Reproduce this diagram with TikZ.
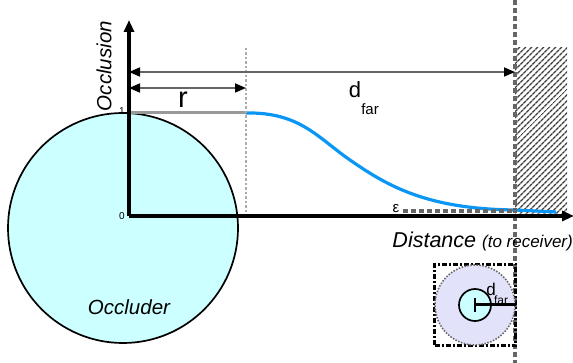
\documentclass[tikz,border=0pt]{standalone}
\usepackage{fontspec}
\setmainfont{Liberation Sans}
\usetikzlibrary{arrows.meta,positioning,patterns.meta}
\definecolor{occfill}{HTML}{CCFFFF}
\definecolor{curveblue}{HTML}{0A96F5}
\definecolor{rulegray}{HTML}{999999}
\definecolor{dashgray}{HTML}{666666}
\definecolor{discfill}{HTML}{E2E2FA}
\newcommand{\bigfont}{\fontsize{20.5}{23}\selectfont}
\tikzset{
  axis/.style={line width=3.2pt, -{Triangle[length=12pt,width=10pt]}},
  dim/.style={draw=dashgray, line width=1.7pt},
  dimtip/.style={dim, {Triangle[length=11pt,width=9pt,black]}-{Triangle[length=11pt,width=9pt,black]}},
  marker/.style={draw=rulegray!80, line width=2.2pt, dash pattern=on 2.5pt off 2pt},
  limit/.style={draw=dashgray, line width=3.2pt, dash pattern=on 5pt off 3pt},
  occluder/.style={circle, draw=black, fill=occfill, line width=1.7pt, minimum size=230pt, inner sep=0pt},
  lbl/.style={font=\bigfont, inner sep=1pt},
  tick/.style={font=\fontsize{10}{11}\selectfont, inner sep=1pt},
  sub/.style={font=\fontsize{15}{16}\selectfont, inner sep=1pt}
}
\begin{document}
\begin{tikzpicture}[x=1pt, y=-1pt]
 \useasboundingbox (0,0) rectangle (573,363);
 % occluder
 \node[occluder] (occ) at (123,228) {};
 \node[lbl, font=\bigfont\itshape] (occname) at (129,307) {Occluder};
 % hatched region beyond d_far
 \fill[pattern={Lines[angle=45, distance=4pt, line width=1.5pt]}, pattern color=dashgray!60!black]
   (515,48) rectangle (567,216);
 % coordinates on the axes
 \coordinate (origin) at (129,216);
 \coordinate (ytop) at (129,20);
 \coordinate (xend) at (574,216);
 \coordinate (full) at (129,113);
 \coordinate (rtop) at (246,48);
 \coordinate (rfull) at (246,113);
 \coordinate (rbase) at (246,216);
 \coordinate (farfoot) at (515,210);
 \coordinate (fartop) at (515,0);
 \coordinate (farbot) at (515,363);
 \coordinate (epsstart) at (403,211);
 \coordinate (epsend) at (515,211);
 % curve
 \draw[curveblue, line width=3.2pt] (rfull) .. controls (300,112) and (318,138) .. (350,160)
   .. controls (390,188) and (430,209) .. (farfoot) -- (556,212);
 \draw[draw=rulegray, line width=3pt] (full) -- (rfull);
 \draw[marker] (rtop) -- (rbase);
 \draw[limit] (epsstart) -- (epsend);
 \draw[limit] (fartop) -- (farbot);
 % axes
 \draw[axis] (origin) -- (ytop);
 \draw[axis] (origin) -- (xend);
 \node[tick, anchor=east] (one) at ([xshift=-3pt,yshift=2pt]full) {1};
 \node[tick, anchor=east] (zero) at ([xshift=-3pt]origin) {0};
 \node[lbl, font=\bigfont\itshape, rotate=90] (ylabel) at (104,66) {Occlusion};
 \node[lbl, font=\fontsize{21.5}{24}\selectfont\itshape, anchor=east] (xlabel) at (574,241)
   {Distance {\fontsize{17}{19}\selectfont(to receiver)}};
 \node[sub] (eps) at (396,209) {ε};
 % dimensions
 \coordinate (rl) at (129,88);
 \coordinate (rr) at (246,88);
 \coordinate (fl) at (129,72);
 \coordinate (fr) at (515,72);
 \draw[dimtip] (rl) -- (rr);
 \draw[dimtip] (fl) -- (fr);
 \node[lbl, font=\fontsize{29}{32}\selectfont, anchor=base] (rname) at (183,108) {r};
 \node[lbl, font=\fontsize{22}{25}\selectfont, anchor=base] (dname) at (355,98) {d};
 \node[sub, anchor=base] (dsub) at (370,115) {far};
 % receiver icon
 \node[draw=black, line width=2.4pt, dash pattern=on 5pt off 2pt on 2pt off 2pt,
   minimum size=81pt, inner sep=0pt] (rxbox) at (475,305) {};
 \node[circle, fill=discfill, draw=dashgray, line width=1.6pt, dash pattern=on 1.5pt off 1.5pt,
   minimum size=80pt, inner sep=0pt] (halo) at (475,305) {};
 \node[circle, fill=occfill, draw=black, line width=1.7pt,
   minimum size=32pt, inner sep=0pt] (core) at (475,305) {};
 \draw[line width=3pt] (core.center) -- (halo.east);
 \draw[line width=2.6pt] ([yshift=-7pt]core.center) -- ([yshift=7pt]core.center);
 \node[font=\fontsize{17}{18}\selectfont, inner sep=1pt] (rxd) at (491,289) {d};
 \node[font=\fontsize{12}{13}\selectfont, inner sep=1pt] (rxsub) at (501,300) {far};
\end{tikzpicture}
\end{document}
